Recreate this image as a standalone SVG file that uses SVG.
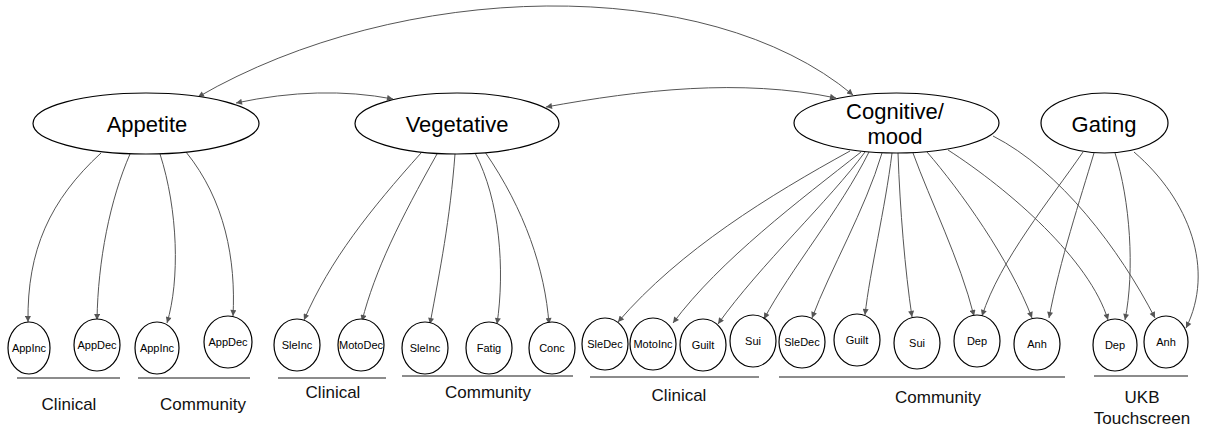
<svg xmlns="http://www.w3.org/2000/svg" width="1208" height="439" viewBox="0 0 1208 439">
<style>
.lat{fill:#fff;stroke:#000;stroke-width:1.2}
.ind{fill:#fff;stroke:#000;stroke-width:1.2}
.big{font-family:"Liberation Sans",Arial,sans-serif;font-size:22px;fill:#000;text-anchor:middle}
.sm{font-family:"Liberation Sans",Arial,sans-serif;font-size:11px;fill:#000;text-anchor:middle}
.grp{font-family:"Liberation Sans",Arial,sans-serif;font-size:17px;fill:#111;text-anchor:middle}
.e{fill:none;stroke:#555;stroke-width:1}
.ul{stroke:#666;stroke-width:1.4}
</style>
<defs>
<marker id="ah" viewBox="0 0 10 10" refX="10" refY="5" markerWidth="8" markerHeight="6" markerUnits="userSpaceOnUse" orient="auto">
<path d="M0,0 L10,5 L0,10 z" fill="#555"/>
</marker>
<marker id="as" viewBox="0 0 10 10" refX="0" refY="5" markerWidth="8" markerHeight="6" markerUnits="userSpaceOnUse" orient="auto">
<path d="M10,0 L0,5 L10,10 z" fill="#555"/>
</marker>
</defs>

<g id="connectors">
<path class="e" marker-start="url(#as)" marker-end="url(#ah)" d="M198,97 C400,-20 706,-28 853,95"/>
<path class="e" marker-start="url(#as)" marker-end="url(#ah)" d="M236,103 Q320,85 393,99"/>
<path class="e" marker-start="url(#as)" marker-end="url(#ah)" d="M546,107 C640,90 740,78 836,98"/>

<path class="e" marker-end="url(#ah)" d="M101,153 C50,200 27,250 28,322"/>
<path class="e" marker-end="url(#ah)" d="M130,154 C110,200 98,260 97,320"/>
<path class="e" marker-end="url(#ah)" d="M160,154 C178,210 180,280 167,323"/>
<path class="e" marker-end="url(#ah)" d="M186,152 C225,200 236,260 233,316"/>

<path class="e" marker-end="url(#ah)" d="M421,153 C370,210 330,260 304,320"/>
<path class="e" marker-end="url(#ah)" d="M437,154 C400,220 375,270 362,321"/>
<path class="e" marker-end="url(#ah)" d="M455,154 C450,220 440,270 430,324"/>
<path class="e" marker-end="url(#ah)" d="M475,153 C500,200 505,270 497,324"/>
<path class="e" marker-end="url(#ah)" d="M485,152 C525,210 545,270 549,324"/>

<path class="e" marker-end="url(#ah)" d="M850,151 C770,195 680,250 618,322"/>
<path class="e" marker-end="url(#ah)" d="M861,152 C800,200 720,260 673,323"/>
<path class="e" marker-end="url(#ah)" d="M865,152 C830,200 760,265 718,324"/>
<path class="e" marker-end="url(#ah)" d="M869,152 C840,210 790,270 764,319"/>
<path class="e" marker-end="url(#ah)" d="M882,153 C865,210 830,270 812,318"/>
<path class="e" marker-end="url(#ah)" d="M892,153 C885,210 870,270 865,315"/>
<path class="e" marker-end="url(#ah)" d="M898,153 C900,210 905,270 912,317"/>
<path class="e" marker-end="url(#ah)" d="M913,153 C930,200 960,260 974,316"/>
<path class="e" marker-end="url(#ah)" d="M927,152 C960,190 1010,260 1032,318"/>
<path class="e" marker-end="url(#ah)" d="M948,150 C1010,190 1090,260 1108,320"/>
<path class="e" marker-end="url(#ah)" d="M993,136 C1060,170 1120,250 1155,318"/>

<path class="e" marker-end="url(#ah)" d="M1083,152 C1050,200 1000,260 982,316"/>
<path class="e" marker-end="url(#ah)" d="M1094,153 C1080,200 1060,260 1049,318"/>
<path class="e" marker-end="url(#ah)" d="M1115,153 C1130,200 1135,270 1125,320"/>
<path class="e" marker-end="url(#ah)" d="M1134,152 C1190,200 1215,270 1186,328"/>
</g>

<g id="appetite"><ellipse class="lat" cx="146" cy="123.5" rx="113" ry="30.5"/><text class="big" x="147" y="132">Appetite</text></g>
<g id="vegetative"><ellipse class="lat" cx="457" cy="123.5" rx="102" ry="30.5"/><text class="big" x="457" y="132">Vegetative</text></g>
<g id="cognitive"><ellipse class="lat" cx="896.5" cy="123" rx="102.5" ry="30"/><text class="big" x="895" y="119">Cognitive/</text><text class="big" x="895" y="144">mood</text></g>
<g id="gating"><ellipse class="lat" cx="1104.5" cy="123" rx="63.5" ry="30"/><text class="big" x="1104" y="132">Gating</text></g>

<g id="n1"><ellipse class="ind" cx="29" cy="348" rx="21" ry="26"/><text class="sm" x="29" y="352">AppInc</text></g>
<g id="n2"><ellipse class="ind" cx="97" cy="345" rx="23" ry="26"/><text class="sm" x="97" y="349">AppDec</text></g>
<g id="n3"><ellipse class="ind" cx="157" cy="348" rx="22" ry="26"/><text class="sm" x="157" y="352">AppInc</text></g>
<g id="n4"><ellipse class="ind" cx="228" cy="342" rx="24" ry="26"/><text class="sm" x="228" y="346">AppDec</text></g>
<g id="n5"><ellipse class="ind" cx="297" cy="345" rx="23" ry="26"/><text class="sm" x="297" y="349">SleInc</text></g>
<g id="n6"><ellipse class="ind" cx="361" cy="345" rx="23" ry="26"/><text class="sm" x="361" y="349">MotoDec</text></g>
<g id="n7"><ellipse class="ind" cx="425" cy="348" rx="23" ry="26"/><text class="sm" x="425" y="352">SleInc</text></g>
<g id="n8"><ellipse class="ind" cx="489" cy="348" rx="23" ry="26"/><text class="sm" x="489" y="352">Fatig</text></g>
<g id="n9"><ellipse class="ind" cx="552" cy="348" rx="23" ry="26"/><text class="sm" x="552" y="352">Conc</text></g>
<g id="n10"><ellipse class="ind" cx="605" cy="344" rx="23" ry="26"/><text class="sm" x="605" y="348">SleDec</text></g>
<g id="n11"><ellipse class="ind" cx="653" cy="344" rx="23" ry="26"/><text class="sm" x="653" y="348">MotoInc</text></g>
<g id="n12"><ellipse class="ind" cx="703" cy="345" rx="23" ry="26"/><text class="sm" x="703" y="349">Guilt</text></g>
<g id="n13"><ellipse class="ind" cx="753" cy="341" rx="23" ry="26"/><text class="sm" x="753" y="345">Sui</text></g>
<g id="n14"><ellipse class="ind" cx="802" cy="342" rx="23" ry="26"/><text class="sm" x="802" y="346">SleDec</text></g>
<g id="n15"><ellipse class="ind" cx="857" cy="340" rx="23" ry="26"/><text class="sm" x="857" y="344">Guilt</text></g>
<g id="n16"><ellipse class="ind" cx="917" cy="343" rx="23" ry="26"/><text class="sm" x="917" y="347">Sui</text></g>
<g id="n17"><ellipse class="ind" cx="977" cy="341" rx="23" ry="26"/><text class="sm" x="977" y="345">Dep</text></g>
<g id="n18"><ellipse class="ind" cx="1037" cy="344" rx="23" ry="26"/><text class="sm" x="1037" y="348">Anh</text></g>
<g id="n19"><ellipse class="ind" cx="1115" cy="345" rx="22" ry="26"/><text class="sm" x="1115" y="349">Dep</text></g>
<g id="n20"><ellipse class="ind" cx="1166" cy="342" rx="22" ry="26"/><text class="sm" x="1166" y="346">Anh</text></g>

<g id="groups">
<line class="ul" x1="17" y1="378" x2="120" y2="378"/>
<line class="ul" x1="138" y1="378" x2="250" y2="378"/>
<line class="ul" x1="278" y1="378" x2="386" y2="378"/>
<line class="ul" x1="402" y1="376" x2="573" y2="376"/>
<line class="ul" x1="590" y1="377" x2="759" y2="377"/>
<line class="ul" x1="779" y1="377" x2="1065" y2="377"/>
<line class="ul" x1="1094" y1="376" x2="1188" y2="376"/>
<text class="grp" x="69" y="410">Clinical</text>
<text class="grp" x="203" y="410">Community</text>
<text class="grp" x="333" y="398">Clinical</text>
<text class="grp" x="488" y="398">Community</text>
<text class="grp" x="679" y="401">Clinical</text>
<text class="grp" x="938" y="403">Community</text>
<text class="grp" x="1142" y="403">UKB</text>
<text class="grp" x="1142" y="424">Touchscreen</text>
</g>
</svg>
